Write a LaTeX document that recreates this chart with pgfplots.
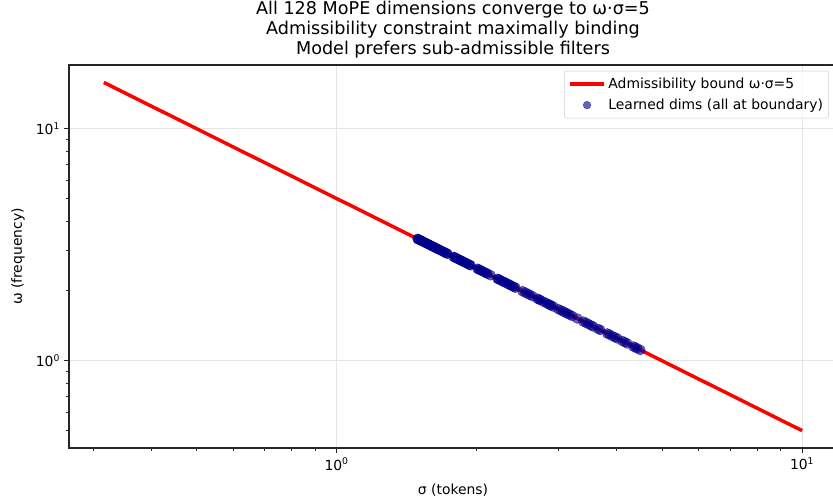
\documentclass[border=0pt]{standalone}
\usepackage{fontspec}
\setmainfont{DejaVu Sans}
\usepackage{pgfplots}
\pgfplotsset{compat=1.18}
\definecolor{dotblue}{RGB}{0,0,139}
\definecolor{spine}{RGB}{38,38,38}
\begin{document}
\begin{tikzpicture}
\begin{axis}[
  at={(0,0)}, anchor=south west,
  scale only axis, width=663.6pt, height=330.9pt,
  xmode=log, ymode=log,
  xmin=0.2661, xmax=11.885, ymin=0.4207, ymax=18.79,
  axis line style={spine, line width=0.96pt},
  xtick={1,10}, xticklabels={10\textsuperscript{0},10\textsuperscript{1}},
  ytick={1,10}, yticklabels={10\textsuperscript{0},10\textsuperscript{1}},
  minor xtick={0.3,0.4,0.5,0.6,0.7,0.8,0.9,2,3,4,5,6,7,8,9},
  minor ytick={0.5,0.6,0.7,0.8,0.9,2,3,4,5,6,7,8,9},
  tick pos=left, tick align=outside,
  major tick length=4.2pt, minor tick length=2.4pt,
  every tick/.style={spine, line width=0.96pt},
  every minor tick/.style={spine, line width=0.7pt},
  ticklabel style={font=\fontsize{12}{14}\selectfont},
  xticklabel style={yshift=-1pt},
  grid=major, major grid style={gray!20, line width=0.96pt},
  xlabel={σ (tokens)}, ylabel={ω (frequency)},
  label style={font=\fontsize{12}{14}\selectfont},
  xlabel style={at={(axis description cs:0.5,-0.1097)}, anchor=center},
  ylabel style={at={(axis description cs:-0.0663,0.5)}, anchor=center, rotate=0},
  title={All 128 MoPE dimensions converge to ω·σ=5\\Admissibility constraint maximally binding\\Model prefers sub-admissible filters},
  title style={align=center, font=\fontsize{15.2}{17.3}\selectfont, yshift=-4pt},
  legend style={at={(1,1)}, anchor=north east, xshift=-7pt, yshift=-5pt,
    font=\fontsize{12}{14}\selectfont, draw=gray!40, rounded corners=2pt,
    fill=white, fill opacity=0.8, text opacity=1, inner xsep=3pt, inner ysep=4pt,
    row sep=3.5pt, cells={anchor=west}},
  legend image code/.code={\draw[#1] (0pt,0pt) -- (30pt,0pt);},
]
\addplot[red, line width=3pt, no marks] coordinates {(0.3162,15.81) (10,0.5)};
\addlegendentry{Admissibility bound ω·σ=5}
\addplot[only marks, mark=*, mark size=4.3pt, mark options={draw=dotblue, fill=dotblue, draw opacity=0.6, fill opacity=0.6},
  legend image code/.code={\draw[only marks, mark=*, mark size=3.3pt, mark options={draw=dotblue, fill=dotblue, fill opacity=0.6, draw opacity=0.6}] plot coordinates {(15pt,0pt)};}]
table {
x y
1.492 3.351
1.496 3.342
1.500 3.333
1.507 3.318
1.514 3.303
1.522 3.285
1.530 3.268
1.541 3.245
1.552 3.222
1.560 3.205
1.570 3.185
1.580 3.165
1.591 3.143
1.600 3.125
1.610 3.106
1.620 3.086
1.631 3.066
1.640 3.049
1.650 3.030
1.660 3.012
1.672 2.990
1.690 2.959
1.700 2.941
1.714 2.917
1.722 2.904
1.731 2.889
1.783 2.804
1.792 2.790
1.800 2.778
1.812 2.759
1.827 2.737
1.838 2.720
1.850 2.703
1.861 2.687
1.873 2.670
1.887 2.650
1.900 2.632
1.920 2.604
1.930 2.591
1.940 2.577
2.007 2.491
2.018 2.478
2.030 2.463
2.043 2.447
2.057 2.431
2.080 2.404
2.095 2.387
2.109 2.371
2.141 2.335
2.216 2.256
2.228 2.244
2.240 2.232
2.271 2.202
2.285 2.188
2.300 2.174
2.328 2.148
2.345 2.132
2.360 2.119
2.386 2.096
2.405 2.079
2.422 2.064
2.507 1.994
2.538 1.970
2.570 1.946
2.600 1.923
2.634 1.898
2.700 1.852
2.720 1.838
2.740 1.825
2.782 1.797
2.820 1.773
2.851 1.754
2.870 1.742
2.890 1.730
2.922 1.711
2.995 1.669
3.030 1.650
3.070 1.629
3.100 1.613
3.131 1.597
3.170 1.577
3.209 1.558
3.289 1.520
3.388 1.476
3.430 1.458
3.473 1.440
3.520 1.420
3.560 1.404
3.649 1.370
3.685 1.357
3.815 1.311
3.850 1.299
3.911 1.278
3.960 1.263
4.009 1.247
4.109 1.217
4.160 1.202
4.212 1.187
4.339 1.152
4.380 1.142
4.426 1.130
4.492 1.113
};
\addlegendentry{Learned dims (all at boundary)}
\end{axis}
\pgfresetboundingbox
\path (-59.6pt,-45.8pt) rectangle (660.1pt,387.1pt);
\end{tikzpicture}
\end{document}
